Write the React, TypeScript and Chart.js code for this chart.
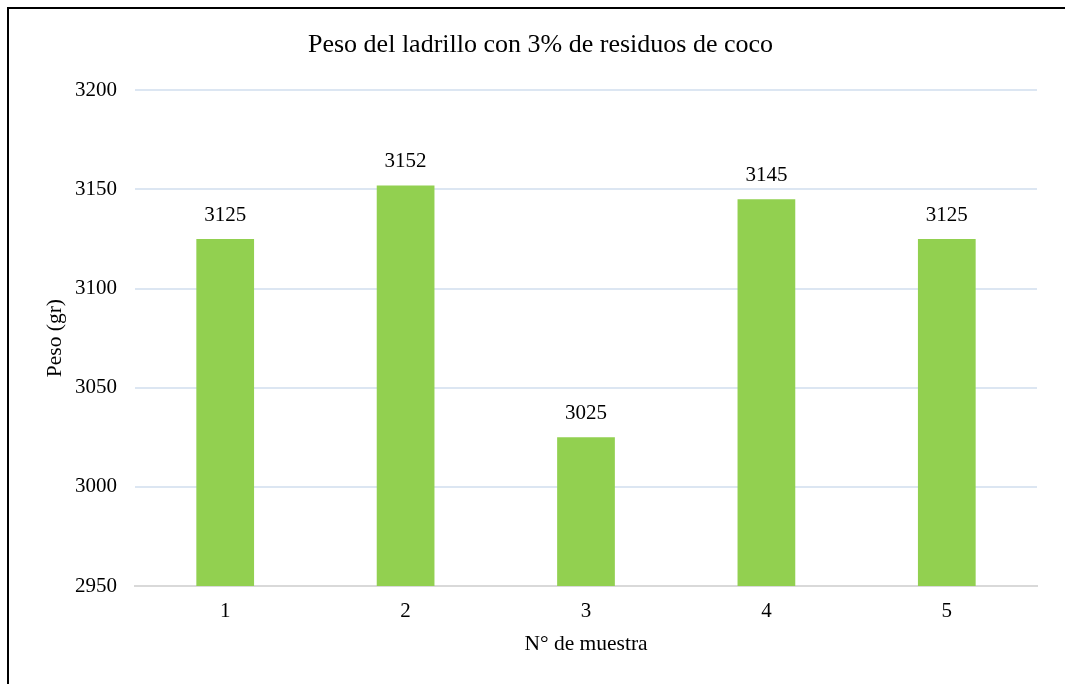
import React, { useEffect, useRef } from "react";
import { Chart, registerables } from "chart.js";

Chart.register(...registerables);

const muestras = ["1", "2", "3", "4", "5"];
const pesos = [3125, 3152, 3025, 3145, 3125];
const yMin = 2950;
const yMax = 3200;
const yStep = 50;

const FONT = "'Liberation Serif', 'Times New Roman', serif";

// Writes each bar's value above it
const valueLabels = {
  id: "valueLabels",
  afterDatasetsDraw(chart: any) {
    const ctx = chart.ctx;
    const meta = chart.getDatasetMeta(0);
    const data = chart.data.datasets[0].data as number[];
    ctx.save();
    ctx.font = `21px ${FONT}`;
    ctx.fillStyle = "#000000";
    ctx.textAlign = "center";
    ctx.textBaseline = "alphabetic";
    meta.data.forEach((bar: any, i: number) => {
      ctx.fillText(String(data[i]), bar.x, bar.y - 18);
    });
    ctx.restore();
  },
};

export default function App() {
  const canvasRef = useRef<HTMLCanvasElement | null>(null);

  useEffect(() => {
    if (!canvasRef.current) return;
    const chart = new Chart(canvasRef.current, {
      type: "bar",
      data: {
        labels: muestras,
        datasets: [
          {
            data: pesos,
            backgroundColor: "#92D050",
            borderWidth: 0,
            categoryPercentage: 1,
            barPercentage: 0.32,
          },
        ],
      },
      options: {
        animation: false,
        responsive: false,
        layout: { padding: { left: 44, right: 28, top: 20, bottom: 0 } },
        plugins: {
          legend: { display: false },
          tooltip: { enabled: false },
          title: {
            display: true,
            text: "Peso del ladrillo con 3% de residuos de coco",
            color: "#000000",
            font: { family: FONT, size: 26, weight: "normal" },
            padding: { top: 10, bottom: 29 },
          },
        },
        scales: {
          x: {
            grid: { display: false, drawTicks: false },
            border: { display: true, color: "#D9D9D9", width: 2 },
            ticks: {
              color: "#000000",
              font: { family: FONT, size: 21 },
              padding: 13,
            },
            title: {
              display: true,
              text: "N° de muestra",
              color: "#000000",
              font: { family: FONT, size: 21.5 },
              padding: { top: 0, bottom: 27 },
            },
            afterFit: (s: any) => {
              s.height = 98;
            },
          },
          y: {
            min: yMin,
            max: yMax,
            grid: { color: "#DCE6F2", lineWidth: 2, drawTicks: false },
            border: { display: false },
            ticks: {
              stepSize: yStep,
              color: "#000000",
              font: { family: FONT, size: 21 },
              padding: 18,
              callback: (v: any) => String(v),
            },
            title: {
              display: true,
              text: "Peso (gr)",
              color: "#000000",
              font: { family: FONT, size: 21.5 },
              padding: { top: -2, bottom: 0 },
            },
            afterFit: (s: any) => {
              s.width = 91;
            },
          },
        },
      },
      plugins: [valueLabels],
    });
    return () => chart.destroy();
  }, []);

  return (
    <div
      style={{
        position: "fixed",
        left: 0,
        top: 0,
        width: 1065,
        height: 684,
        background: "#ffffff",
        overflow: "hidden",
      }}
    >
      <canvas
        ref={canvasRef}
        width={1065}
        height={684}
        style={{ position: "absolute", left: 0, top: 0, width: 1065, height: 684 }}
      />
      <div
        style={{
          position: "absolute",
          left: 7,
          top: 7,
          width: 1200,
          height: 800,
          borderLeft: "2px solid #000000",
          borderTop: "2px solid #000000",
          pointerEvents: "none",
        }}
      />
    </div>
  );
}
